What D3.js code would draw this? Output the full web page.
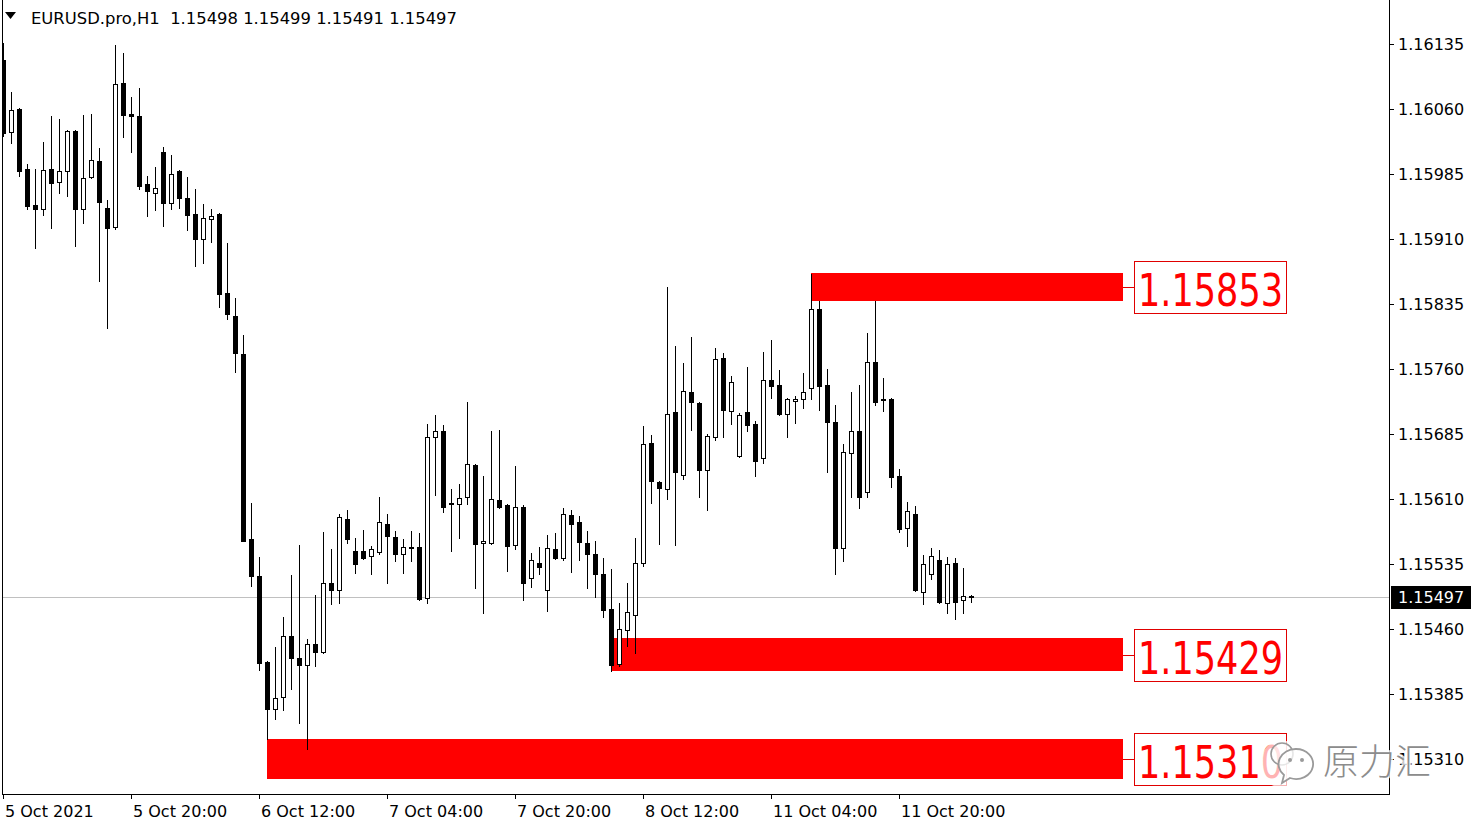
<!DOCTYPE html>
<html><head><meta charset="utf-8">
<script src="https://cdn.jsdelivr.net/npm/d3@7"></script>
<style>html,body{margin:0;padding:0;background:#fff;overflow:hidden}</style>
</head><body>
<svg id="c" width="1481" height="827"></svg>
<script>
// ---------------- data ----------------
const symbolTitle = "EURUSD.pro,H1";
const lastOHLC = ["1.15498", "1.15499", "1.15491", "1.15497"];
const lastPrice = 1.15497;

const open = [1.16117,1.16033,1.16060,1.15991,1.15949,1.15945,1.15991,1.15976,1.15988,1.16035,
1.15945,1.15981,1.16000,1.15946,1.15924,1.16090,1.16054,1.16052,1.15973,1.15963,
1.16010,1.15952,1.15988,1.15957,1.15939,1.15910,1.15933,1.15939,1.15848,1.15821,
1.15777,1.15564,1.15521,1.15422,1.15368,1.15381,1.15452,1.15426,1.15419,1.15443,
1.15433,1.15513,1.15505,1.15587,1.15550,1.15550,1.15544,1.15549,1.15581,1.15566,
1.15546,1.15555,1.15555,1.15496,1.15681,1.15688,1.15605,1.15604,1.15612,1.15649,
1.15559,1.15559,1.15609,1.15603,1.15557,1.15601,1.15519,1.15536,1.15505,1.15552,
1.15542,1.15592,1.15583,1.15559,1.15547,1.15523,1.15483,1.15420,1.15459,1.15476,
1.15536,1.15675,1.15630,1.15622,1.15710,1.15638,1.15733,1.15721,1.15644,1.15682,
1.15773,1.15712,1.15660,1.15710,1.15697,1.15657,1.15747,1.15741,1.15708,1.15723,
1.15725,1.15738,1.15829,1.15741,1.15699,1.15553,1.15663,1.15688,1.15618,1.15768,
1.15725,1.15725,1.15637,1.15577,1.15593,1.15503,1.15524,1.15540,1.15490,1.15536,
1.15493,1.15498];

const high = [1.16136,1.16080,1.16061,1.15997,1.15991,1.16022,1.16052,1.16048,1.16036,1.16036,
1.16053,1.16054,1.16015,1.15955,1.16134,1.16125,1.16074,1.16084,1.15983,1.15993,
1.16016,1.16007,1.15990,1.15981,1.15968,1.15950,1.15945,1.15940,1.15905,1.15842,
1.15799,1.15605,1.15543,1.15423,1.15439,1.15474,1.15522,1.15557,1.15448,1.15499,
1.15572,1.15552,1.15593,1.15597,1.15565,1.15574,1.15556,1.15612,1.15593,1.15573,
1.15564,1.15573,1.15571,1.15697,1.15707,1.15695,1.15622,1.15627,1.15722,1.15650,
1.15636,1.15688,1.15690,1.15604,1.15648,1.15603,1.15548,1.15555,1.15568,1.15571,
1.15600,1.15597,1.15590,1.15573,1.15561,1.15542,1.15529,1.15490,1.15513,1.15565,
1.15694,1.15684,1.15631,1.15855,1.15787,1.15767,1.15797,1.15722,1.15685,1.15784,
1.15778,1.15752,1.15709,1.15762,1.15700,1.15780,1.15793,1.15759,1.15726,1.15729,
1.15755,1.15870,1.15839,1.15760,1.15718,1.15674,1.15733,1.15741,1.15801,1.15839,
1.15750,1.15726,1.15645,1.15607,1.15602,1.15545,1.15553,1.15551,1.15543,1.15542,
1.15530,1.15499];

const low = [1.16029,1.16021,1.15983,1.15945,1.15900,1.15938,1.15923,1.15963,1.15960,1.15902,
1.15928,1.15980,1.15862,1.15807,1.15921,1.16028,1.16010,1.15968,1.15937,1.15943,
1.15925,1.15945,1.15946,1.15920,1.15879,1.15882,1.15907,1.15832,1.15818,1.15757,
1.15561,1.15510,1.15413,1.15333,1.15356,1.15367,1.15391,1.15351,1.15322,1.15417,
1.15432,1.15489,1.15490,1.15559,1.15525,1.15541,1.15524,1.15547,1.15513,1.15539,
1.15525,1.15539,1.15493,1.15490,1.15615,1.15595,1.15550,1.15565,1.15604,1.15507,
1.15478,1.15558,1.15600,1.15527,1.15552,1.15494,1.15508,1.15524,1.15481,1.15541,
1.15540,1.15526,1.15540,1.15507,1.15497,1.15474,1.15411,1.15417,1.15440,1.15432,
1.15533,1.15605,1.15558,1.15610,1.15557,1.15633,1.15690,1.15612,1.15597,1.15678,
1.15681,1.15696,1.15659,1.15689,1.15637,1.15651,1.15727,1.15707,1.15682,1.15698,
1.15715,1.15725,1.15713,1.15641,1.15523,1.15539,1.15612,1.15600,1.15612,1.15718,
1.15711,1.15624,1.15572,1.15556,1.15504,1.15489,1.15518,1.15490,1.15479,1.15472,
1.15478,1.15491];

const close = [1.16032,1.16059,1.15989,1.15948,1.15945,1.15990,1.15975,1.15989,1.16035,1.15945,
1.15980,1.16001,1.15953,1.15923,1.16089,1.16053,1.16052,1.15971,1.15965,1.15969,
1.15952,1.15985,1.15957,1.15938,1.15910,1.15934,1.15937,1.15847,1.15823,1.15779,
1.15562,1.15521,1.15421,1.15368,1.15380,1.15452,1.15426,1.15419,1.15443,1.15433,
1.15513,1.15505,1.15589,1.15564,1.15535,1.15542,1.15552,1.15584,1.15567,1.15546,
1.15555,1.15553,1.15495,1.15682,1.15688,1.15601,1.15604,1.15611,1.15650,1.15558,
1.15562,1.15610,1.15601,1.15556,1.15601,1.15513,1.15540,1.15532,1.15553,1.15542,
1.15593,1.15581,1.15560,1.15547,1.15523,1.15482,1.15418,1.15460,1.15480,1.15536,
1.15674,1.15631,1.15623,1.15708,1.15641,1.15735,1.15722,1.15643,1.15683,1.15772,
1.15713,1.15745,1.15707,1.15695,1.15654,1.15747,1.15740,1.15708,1.15725,1.15725,
1.15733,1.15829,1.15740,1.15699,1.15554,1.15664,1.15688,1.15612,1.15768,1.15722,
1.15724,1.15635,1.15575,1.15596,1.15505,1.15535,1.15544,1.15491,1.15535,1.15491,
1.15498,1.15497];

const yTicks = [1.16135,1.16060,1.15985,1.15910,1.15835,1.15760,1.15685,1.15610,1.15535,1.15460,1.15385,1.15310];
const xTickBars = [0,16,32,48,64,80,96,112];
const xTickLabels = ["5 Oct 2021","5 Oct 20:00","6 Oct 12:00","7 Oct 04:00","7 Oct 20:00","8 Oct 12:00","11 Oct 04:00","11 Oct 20:00"];

const zoneStart = [101, 76, 33];
const zoneEnd = [140, 140, 140];
const zoneTop = [1.15871, 1.15450, 1.15333];
const zoneBottom = [1.15838, 1.15411, 1.15287];
const zoneLabel = ["1.15853", "1.15429", "1.15310"];

const watermarkText = "原力汇";

// ---------------- drawing ----------------
const svg = d3.select("#c");
const font = "'DejaVu Sans', Verdana, sans-serif";
const plotL = 2, plotR = 1389, plotB = 794;

const x = d3.scaleLinear().domain([0, 121]).range([3, 971]);
const y = d3.scaleLinear().domain([1.15310, 1.16135]).range([759, 44]);

const bars = open.map((o, i) => ({i, o, h: high[i], l: low[i], c: close[i]}));

svg.append("defs").append("clipPath").attr("id", "plot")
  .append("rect").attr("x", plotL + 1).attr("y", 0).attr("width", plotR - plotL - 1).attr("height", plotB);

// price line
svg.append("line")
  .attr("x1", plotL).attr("x2", plotR)
  .attr("y1", Math.round(y(lastPrice)) + 0.5).attr("y2", Math.round(y(lastPrice)) + 0.5)
  .attr("stroke", "#c0c0c0").attr("stroke-width", 1);

const plot = svg.append("g").attr("clip-path", "url(#plot)");

// zones
plot.selectAll("rect.zone").data(zoneStart).join("rect").attr("class", "zone")
  .attr("x", (d, k) => x(d))
  .attr("y", (d, k) => Math.round(y(zoneTop[k])))
  .attr("width", (d, k) => x(zoneEnd[k]) - x(d))
  .attr("height", (d, k) => Math.round(y(zoneBottom[k])) - Math.round(y(zoneTop[k])))
  .attr("fill", "#ff0000");

// candles
const cg = plot.append("g").attr("shape-rendering", "crispEdges");
bars.forEach(b => {
  const cx = Math.round(x(b.i));
  const yh = Math.round(y(b.h)), yl = Math.round(y(b.l));
  cg.append("rect").attr("x", cx).attr("y", yh).attr("width", 1).attr("height", Math.max(1, yl - yh + 1)).attr("fill", "#000");
  const yt = Math.round(y(Math.max(b.o, b.c))), yb = Math.round(y(Math.min(b.o, b.c)));
  const bull = b.c > b.o;
  if (yb - yt < 1) {
    cg.append("rect").attr("x", cx - 2).attr("y", yt).attr("width", 5).attr("height", 1).attr("fill", "#000");
  } else if (bull) {
    cg.append("rect").attr("x", cx - 2).attr("y", yt).attr("width", 5).attr("height", yb - yt + 1).attr("fill", "#000");
    if (yb - yt >= 2) cg.append("rect").attr("x", cx - 1).attr("y", yt + 1).attr("width", 3).attr("height", yb - yt - 1).attr("fill", "#fff");
  } else {
    cg.append("rect").attr("x", cx - 2).attr("y", yt).attr("width", 5).attr("height", yb - yt + 1).attr("fill", "#000");
  }
});

// zone labels
zoneStart.forEach((d, k) => {
  const mid = (Math.round(y(zoneTop[k])) + Math.round(y(zoneBottom[k]))) / 2;
  const xe = x(zoneEnd[k]);
  svg.append("line").attr("x1", xe).attr("x2", xe + 11)
    .attr("y1", Math.round(mid) + 0.5).attr("y2", Math.round(mid) + 0.5)
    .attr("stroke", "#e00000").attr("stroke-width", 1);
  svg.append("rect").attr("x", xe + 11.5).attr("y", Math.round(mid) - 25.5)
    .attr("width", 152).attr("height", 52)
    .attr("fill", "none").attr("stroke", "#e00000").attr("stroke-width", 1);
  svg.append("text").attr("x", xe + 15).attr("y", Math.round(mid) + 19)
    .attr("font-family", font).attr("font-size", 45)
    .attr("textLength", 145).attr("lengthAdjust", "spacingAndGlyphs")
    .attr("fill", "#ff0000").text(zoneLabel[k]);
});

// frame
svg.append("g").attr("shape-rendering", "crispEdges").call(g => {
  g.append("line").attr("x1", plotL + 0.5).attr("x2", plotL + 0.5).attr("y1", 0).attr("y2", plotB + 1).attr("stroke", "#000");
  g.append("line").attr("x1", plotR + 0.5).attr("x2", plotR + 0.5).attr("y1", 0).attr("y2", plotB + 1).attr("stroke", "#000");
  g.append("line").attr("x1", plotL).attr("x2", plotR + 1).attr("y1", plotB + 0.5).attr("y2", plotB + 0.5).attr("stroke", "#000");
});

// y axis
const ya = svg.append("g");
yTicks.forEach(t => {
  const yy = Math.round(y(t));
  ya.append("line").attr("x1", plotR + 1).attr("x2", plotR + 5).attr("y1", yy + 0.5).attr("y2", yy + 0.5).attr("stroke", "#000").attr("shape-rendering", "crispEdges");
  ya.append("text").attr("x", 1398).attr("y", yy).attr("dy", "0.36em")
    .attr("font-family", font).attr("font-size", 16).attr("fill", "#000").text(d3.format(".5f")(t));
});

// current price tag
const py = Math.round(y(lastPrice));
svg.append("rect").attr("x", 1391).attr("y", py - 11).attr("width", 80).attr("height", 23).attr("fill", "#000");
svg.append("text").attr("x", 1398).attr("y", py).attr("dy", "0.36em")
  .attr("font-family", font).attr("font-size", 16).attr("fill", "#fff").text(d3.format(".5f")(lastPrice));

// x axis
const xa = svg.append("g");
xTickBars.forEach((b, k) => {
  const xx = Math.round(x(b));
  xa.append("line").attr("x1", xx + 0.5).attr("x2", xx + 0.5).attr("y1", plotB).attr("y2", plotB + 5).attr("stroke", "#000").attr("shape-rendering", "crispEdges");
  xa.append("text").attr("x", xx + 2).attr("y", 817)
    .attr("font-family", font).attr("font-size", 16).attr("fill", "#000").text(xTickLabels[k]);
});

// header
svg.append("path").attr("d", "M5,12 L16,12 L10.5,19 Z").attr("fill", "#000");
svg.append("text").attr("x", 31).attr("y", 24).style("white-space", "pre")
  .attr("font-family", font).attr("font-size", 16.4).attr("fill", "#000")
  .text(symbolTitle + "  " + lastOHLC.join(" "));

// watermark
const wm = svg.append("g");
wm.append("rect").attr("x", 1262).attr("y", 741).attr("width", 60).attr("height", 46).attr("rx", 18)
  .attr("fill", "#fff").attr("opacity", 0.7);
wm.append("circle").attr("cx", 1282).attr("cy", 754).attr("r", 11)
  .attr("fill", "#fff").attr("fill-opacity", 0.6).attr("stroke", "#9a9a9a").attr("stroke-width", 1.6);
wm.append("path").attr("d", "M1296,749 a17,15 0 1 1 -6,29 l-8,5 l2,-8 a17,15 0 0 1 12,-26 Z")
  .attr("fill", "#fff").attr("fill-opacity", 0.75).attr("stroke", "#9a9a9a").attr("stroke-width", 1.8);
wm.append("circle").attr("cx", 1290).attr("cy", 760).attr("r", 2).attr("fill", "#9a9a9a");
wm.append("circle").attr("cx", 1302).attr("cy", 760).attr("r", 2).attr("fill", "#9a9a9a");
wm.append("text").attr("x", 1323).attr("y", 775)
  .attr("font-family", "'Noto Sans CJK SC', sans-serif").attr("font-weight", 300).attr("font-size", 36)
  .attr("fill", "#8c8c8c").attr("stroke", "#fff").attr("stroke-opacity", 0.8).attr("stroke-width", 4)
  .style("paint-order", "stroke").text(watermarkText);
</script>
</body></html>
